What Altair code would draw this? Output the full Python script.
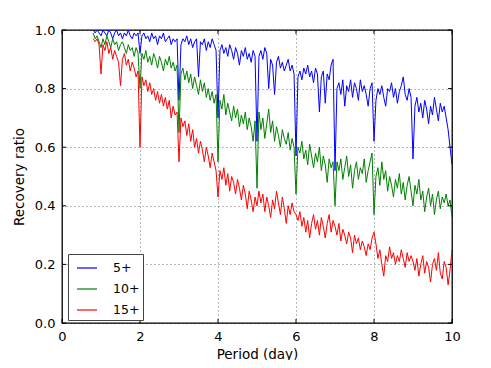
import altair as alt
import pandas as pd

# sampling grid (day)
x_start = 0.8
x_step = 0.05
n_pts = 185

blue_5 = [
    1.0, 0.99, 1.0, 0.99,
    0.98, 1.0, 0.99, 0.98, 1.0, 0.99, 0.97, 0.99, 1.0, 0.98, 0.99, 0.97, 0.99, 0.98, 1.0, 0.98, 0.97, 0.99, 0.98, 0.99,
    0.92, 0.98, 0.99, 0.97, 0.98, 0.96, 0.99, 0.97, 0.98, 0.95, 0.98, 0.97, 0.99, 0.96, 0.97, 0.98, 0.95, 0.97, 0.96, 0.97,
    0.76, 0.95, 0.97, 0.96, 0.98, 0.95, 0.97, 0.94, 0.96, 0.97, 0.84, 0.96, 0.95, 0.97, 0.93, 0.96, 0.94, 0.97, 0.95, 0.93,
    0.70, 0.93, 0.95, 0.92, 0.94, 0.91, 0.95, 0.93, 0.90, 0.94, 0.92, 0.88, 0.93, 0.91, 0.94, 0.90, 0.92, 0.89, 0.93, 0.91,
    0.62, 0.91, 0.93, 0.90, 0.94, 0.92, 0.80, 0.90, 0.88, 0.78, 0.89, 0.91, 0.87, 0.89, 0.86, 0.88, 0.90, 0.86, 0.88, 0.85,
    0.57, 0.84, 0.86, 0.83, 0.87, 0.85, 0.88, 0.84, 0.86, 0.82, 0.87, 0.85, 0.72, 0.84, 0.86, 0.75, 0.85, 0.83, 0.88, 0.90,
    0.52, 0.80, 0.82, 0.78, 0.83, 0.74, 0.81, 0.79, 0.83, 0.77, 0.82, 0.80, 0.76, 0.83, 0.79, 0.81, 0.78, 0.74, 0.80, 0.82,
    0.62, 0.76, 0.80, 0.78, 0.81, 0.77, 0.74, 0.80, 0.79, 0.82, 0.77, 0.80, 0.75, 0.79, 0.81, 0.84, 0.78, 0.76, 0.80, 0.77,
    0.56, 0.74, 0.77, 0.72, 0.75, 0.70, 0.76, 0.73, 0.68, 0.74, 0.71, 0.77, 0.73, 0.69, 0.75, 0.72, 0.74, 0.70, 0.66, 0.60,
    0.54,
]

green_10 = [
    0.99, 0.97, 0.98, 0.96,
    0.94, 0.97, 0.95, 0.98, 0.96, 0.94, 0.97, 0.95, 0.96, 0.93, 0.95, 0.96, 0.94, 0.92, 0.95, 0.93, 0.94, 0.91, 0.94, 0.92,
    0.80, 0.92, 0.90, 0.93, 0.89, 0.91, 0.88, 0.92, 0.90, 0.87, 0.91, 0.89, 0.86, 0.90, 0.88, 0.91, 0.87, 0.89, 0.86, 0.88,
    0.65, 0.85, 0.87, 0.83, 0.86, 0.82, 0.85, 0.80, 0.84, 0.81, 0.78, 0.83, 0.79, 0.82, 0.77, 0.80, 0.76, 0.79, 0.75, 0.78,
    0.55, 0.76, 0.73, 0.78, 0.71, 0.75, 0.72, 0.69, 0.74, 0.70, 0.73, 0.67, 0.71, 0.68, 0.72, 0.66, 0.70, 0.67, 0.62, 0.69,
    0.46, 0.72, 0.66, 0.70, 0.63, 0.68, 0.73, 0.65, 0.69, 0.62, 0.67, 0.64, 0.60, 0.66, 0.63, 0.61, 0.65, 0.59, 0.63, 0.60,
    0.44, 0.60, 0.58, 0.62, 0.56, 0.59, 0.54, 0.61, 0.57, 0.53, 0.58, 0.55, 0.60, 0.52, 0.57, 0.54, 0.48, 0.56, 0.53, 0.55,
    0.40, 0.55, 0.52, 0.56, 0.49, 0.53, 0.57, 0.50, 0.54, 0.46, 0.52, 0.55, 0.49, 0.53, 0.51, 0.56, 0.48, 0.52, 0.55, 0.58,
    0.37, 0.50, 0.53, 0.47, 0.55, 0.49, 0.52, 0.45, 0.50, 0.47, 0.43, 0.49, 0.46, 0.51, 0.44, 0.48, 0.42, 0.47, 0.50, 0.45,
    0.40, 0.47, 0.44, 0.49, 0.42, 0.45, 0.38, 0.43, 0.46, 0.40, 0.44, 0.37, 0.42, 0.45, 0.39, 0.43, 0.41, 0.44, 0.40, 0.42,
    0.36,
]

red_15 = [
    0.97, 0.96, 0.97, 0.95,
    0.85, 0.95, 0.93, 0.96, 0.92, 0.94, 0.90, 0.93, 0.91, 0.89, 0.81, 0.90, 0.92, 0.88, 0.90, 0.86, 0.89, 0.87, 0.84, 0.86,
    0.60, 0.84, 0.81, 0.83, 0.79, 0.82, 0.78, 0.80, 0.76, 0.79, 0.75, 0.78, 0.74, 0.77, 0.73, 0.76, 0.70, 0.74, 0.71, 0.72,
    0.55, 0.70, 0.67, 0.69, 0.64, 0.68, 0.62, 0.66, 0.60, 0.63, 0.58, 0.62, 0.59, 0.55, 0.60, 0.57, 0.53, 0.58, 0.55, 0.52,
    0.43, 0.52, 0.49, 0.53, 0.47, 0.51, 0.45, 0.50, 0.48, 0.44, 0.49, 0.46, 0.42, 0.47, 0.44, 0.39, 0.45, 0.42, 0.38, 0.43,
    0.40, 0.45, 0.41, 0.44, 0.38, 0.43, 0.40, 0.36, 0.42, 0.39, 0.45, 0.41, 0.37, 0.43, 0.39, 0.34, 0.40, 0.37, 0.41, 0.38,
    0.37, 0.35, 0.38, 0.33, 0.36, 0.31, 0.35, 0.29, 0.34, 0.37, 0.32, 0.35, 0.30, 0.36, 0.33, 0.29, 0.34, 0.37, 0.31, 0.35,
    0.33, 0.30, 0.34, 0.28, 0.32, 0.30, 0.27, 0.31, 0.29, 0.24, 0.30, 0.27, 0.29, 0.25, 0.28, 0.26, 0.23, 0.27, 0.25, 0.29,
    0.31, 0.27, 0.22, 0.25, 0.20, 0.16, 0.23, 0.21, 0.26, 0.22, 0.24, 0.20, 0.23, 0.21, 0.25, 0.22, 0.19, 0.24, 0.21, 0.23,
    0.21, 0.18, 0.22, 0.16, 0.20, 0.23, 0.17, 0.21, 0.19, 0.14, 0.20, 0.22, 0.18, 0.24, 0.17, 0.15, 0.21, 0.19, 0.13, 0.18,
    0.25,
]

series_names = ["5+", "10+", "15+"]
series_colors = ["#0000ff", "#008000", "#ff0000"]
x_ticks = [0, 2, 4, 6, 8, 10]
y_ticks = [0.0, 0.2, 0.4, 0.6, 0.8, 1.0]

xs = [round(x_start + x_step * i, 2) for i in range(n_pts)]
rows = []
for name, vals in zip(series_names, [blue_5, green_10, red_15]):
    for xv, yv in zip(xs, vals):
        rows.append({"period": xv, "ratio": yv, "series": name})
df = pd.DataFrame(rows)

W, H = 390, 293
xscale = alt.Scale(domain=[0, 10], nice=False, zero=False)
yscale = alt.Scale(domain=[0, 1], nice=False)
x_axis = alt.Axis(values=x_ticks, format="d", labelPadding=7, titlePadding=4, labelFlush=False)
y_axis = alt.Axis(values=y_ticks, format=".1f", labelPadding=7, titlePadding=8, labelFlush=False)

lines = alt.Chart(df).mark_line(strokeWidth=1, clip=True).encode(
    x=alt.X("period:Q", scale=xscale, title="Period (day)", axis=x_axis),
    y=alt.Y("ratio:Q", scale=yscale, title="Recovery ratio", axis=y_axis),
    color=alt.Color("series:N", sort=series_names,
                    scale=alt.Scale(domain=series_names, range=series_colors),
                    legend=alt.Legend(title=None)),
)

xt_df = pd.DataFrame({"period": x_ticks})
yt_df = pd.DataFrame({"ratio": y_ticks})
tick_len = 4
xb = alt.Chart(xt_df).mark_rule(color="black", strokeWidth=1).encode(
    x=alt.X("period:Q", scale=xscale, title="Period (day)", axis=x_axis),
    y=alt.value(H), y2=alt.value(H - tick_len))
xtp = alt.Chart(xt_df).mark_rule(color="black", strokeWidth=1).encode(
    x=alt.X("period:Q", scale=xscale, title="Period (day)", axis=x_axis),
    y=alt.value(0), y2=alt.value(tick_len))
yl = alt.Chart(yt_df).mark_rule(color="black", strokeWidth=1).encode(
    y=alt.Y("ratio:Q", scale=yscale, title="Recovery ratio", axis=y_axis),
    x=alt.value(0), x2=alt.value(tick_len))
yr = alt.Chart(yt_df).mark_rule(color="black", strokeWidth=1).encode(
    y=alt.Y("ratio:Q", scale=yscale, title="Recovery ratio", axis=y_axis),
    x=alt.value(W), x2=alt.value(W - tick_len))

chart = alt.layer(lines, xb, xtp, yl, yr).properties(
    width=W, height=H,
    padding={"left": 54, "top": 22, "right": 31, "bottom": 37},
    autosize=alt.AutoSizeParams(type="none"),
).configure_axis(
    labelFont="DejaVu Sans", labelFontSize=13, labelColor="black",
    titleFont="DejaVu Sans", titleFontSize=13.5, titleFontWeight="normal", titleColor="black",
    grid=True, gridColor="black", gridOpacity=0.55, gridDash=[1, 3], gridWidth=1,
    ticks=False, domain=False,
).configure_view(
    stroke="black", strokeWidth=1.3,
).configure_legend(
    orient="none", legendX=6, legendY=224,
    strokeColor="#444444", strokeWidth=1, fillColor="white", padding=3,
    symbolType="stroke", symbolSize=400, symbolStrokeWidth=1.2, symbolOffset=5,
    labelFont="DejaVu Sans", labelFontSize=12.5, labelColor="black",
    labelOffset=15, rowPadding=3, cornerRadius=0,
)

chart.save("out.html", embed_options={"renderer": "svg", "actions": False})
